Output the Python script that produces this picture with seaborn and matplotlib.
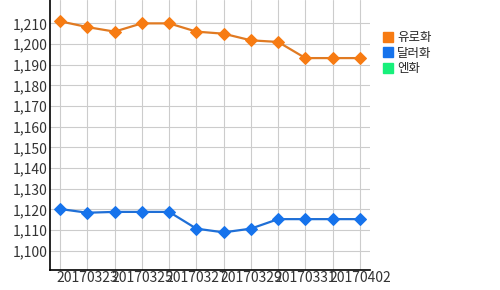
import matplotlib
matplotlib.use("Agg")
import matplotlib.pyplot as plt
import matplotlib.ticker as mticker
from matplotlib.patches import Patch
import seaborn as sns
import pandas as pd

dates = ["20170322", "20170323", "20170324", "20170325", "20170326", "20170327",
         "20170328", "20170329", "20170330", "20170331", "20170401", "20170402"]
euro = [1211, 1208.2, 1206, 1210, 1210, 1206, 1205, 1201.8, 1201, 1193.2, 1193.2, 1193.2]
dollar = [1120.2, 1118.4, 1118.8, 1118.8, 1118.8, 1110.7, 1108.9, 1110.7, 1115.3, 1115.3, 1115.3, 1115.3]
series_names = ["유로화", "달러화", "엔화"]
colors = ["#f77b12", "#1673ec", "#17f07b"]
line_colors = ["#e07a22", "#1f6fd6", "#17f07b"]

sns.set_style("white")
plt.rcParams['font.family'] = ['Noto Sans CJK KR', 'DejaVu Sans']

df = pd.DataFrame({
    "idx": list(range(len(dates))) * 2,
    "value": euro + dollar,
    "series": [series_names[0]] * len(dates) + [series_names[1]] * len(dates),
})

fig = plt.figure(figsize=(5, 2.9), dpi=100)
ax = fig.add_axes([0.1, 0.069, 0.64, 0.931])

for i, name in enumerate(series_names[:2]):
    sub = df[df["series"] == name]
    sns.lineplot(data=sub, x="idx", y="value", ax=ax, color=line_colors[i],
                 marker="D", markersize=6, markerfacecolor=colors[i],
                 markeredgecolor=colors[i], linewidth=1.6, legend=False, zorder=3)

ax.set_xlim(-0.37, 11.37)
ax.set_ylim(1090.7, 1221.3)
ax.set_xticks(range(len(dates)))
ax.set_xticklabels([d if i % 2 == 1 else "" for i, d in enumerate(dates)])
ax.set_yticks(range(1100, 1211, 10))
ax.yaxis.set_major_formatter(mticker.FuncFormatter(lambda v, p: f"{int(v):,}"))
ax.grid(True, color="#cccccc", linewidth=0.8)
ax.set_axisbelow(True)
for s in ["top", "right"]:
    ax.spines[s].set_visible(False)
for s in ["left", "bottom"]:
    ax.spines[s].set_color("black")
    ax.spines[s].set_linewidth(1.2)
ax.tick_params(axis="both", length=0, labelsize=10, colors="#333333")
ax.tick_params(axis="y", pad=2)
ax.tick_params(axis="x", pad=1)
ax.set_xlabel("")
ax.set_ylabel("")

handles = [Patch(facecolor=c, edgecolor=c) for c in colors]
fig.legend(handles, series_names, loc="upper left", bbox_to_anchor=(0.755, 0.91),
           frameon=False, fontsize=9, handlelength=0.8, handleheight=0.8,
           handletextpad=0.35, labelspacing=0.2, borderaxespad=0)

fig.savefig("out.png", dpi=100)
